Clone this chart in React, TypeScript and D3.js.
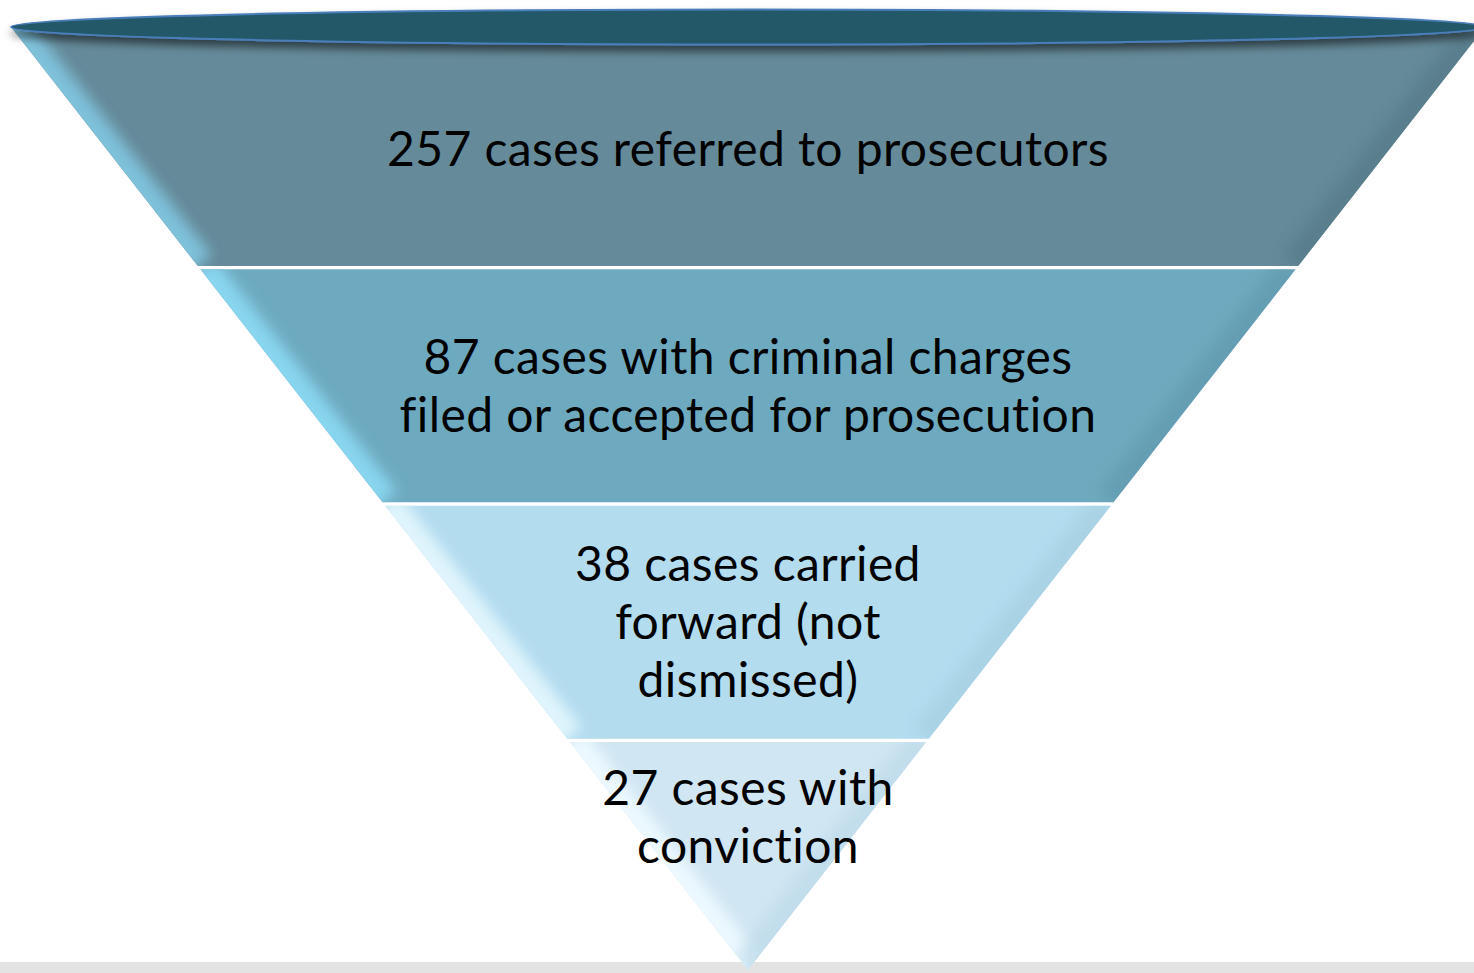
import React from 'react';
import * as d3 from 'd3';

// funnel stages, top to bottom
const stages = ['referred', 'charged', 'forward', 'convicted'];
const stageCounts = [257, 87, 38, 27];
const stageLabels = [
  ['257 cases referred to prosecutors'],
  ['87 cases with criminal charges', 'filed or accepted for prosecution'],
  ['38 cases carried', 'forward (not', 'dismissed)'],
  ['27 cases with', 'conviction'],
];
const stageFills = ['#658a99', '#6eaabf', '#b3dcef', '#d0e6f3'];
const stageLight = ['#80c4de', '#8ad8f2', '#e2f6fd', '#eef9ff'];
const stageDark = ['#557988', '#6099ae', '#a6cfe1', '#bcd9e8'];

const W = 1474;
const H = 973;

export default function App() {
  const cx = 748;
  const topY = 27;
  const apexY = 970;
  const halfTop = 737;

  // half width of the funnel at a given y
  const half = d3.scaleLinear().domain([apexY, topY]).range([0, halfTop]);

  const yBand = d3.scaleBand<string>()
    .domain(stages)
    .range([33, 975])
    .paddingInner(0.014)
    .paddingOuter(0);

  const lineH = 58;

  return (
    <svg width={W} height={H} style={{ position: 'absolute', left: 0, top: 0, background: '#fff' }}>
      <defs>
        <filter id="blur" x="-20%" y="-20%" width="140%" height="140%">
          <feGaussianBlur stdDeviation="7" />
        </filter>
        <filter id="blurSmall" x="-20%" y="-20%" width="140%" height="140%">
          <feGaussianBlur stdDeviation="1.5" />
        </filter>
        <filter id="ellShadow" x="-5%" y="-50%" width="110%" height="260%">
          <feDropShadow dx="0" dy="6" stdDeviation="4" floodColor="#000" floodOpacity="0.55" />
        </filter>
      </defs>

      {/* floor strip */}
      <rect x={0} y={962} width={W} height={H - 962} fill="#e3e3e3" />

      {stages.map((s, i) => {
        const y0 = i === 0 ? topY : yBand(s)!;
        const y1 = Math.min(yBand(s)! + yBand.bandwidth(), apexY);
        const pts: [number, number][] = [
          [cx - half(y0), y0],
          [cx + half(y0), y0],
          [cx + half(y1), y1],
          [cx - half(y1), y1],
        ];
        const d = d3.line()(pts.concat([pts[0]]))!;
        const clipId = `clip-${s}`;
        return (
          <g key={s}>
            <clipPath id={clipId}>
              <path d={d} />
            </clipPath>
            <path d={d} fill={stageFills[i]} />
            <g clipPath={`url(#${clipId})`}>
              {/* left bevel highlight */}
              <line x1={pts[0][0]} y1={pts[0][1]} x2={pts[3][0]} y2={pts[3][1]}
                stroke={stageLight[i]} strokeWidth={36} filter="url(#blur)" opacity={0.95} />
              {/* right bevel shade */}
              <line x1={pts[1][0]} y1={pts[1][1]} x2={pts[2][0]} y2={pts[2][1]}
                stroke={stageDark[i]} strokeWidth={36} filter="url(#blur)" opacity={0.7} />
              {/* top highlight */}
              {i > 0 && (
                <line x1={pts[0][0]} y1={y0 + 2} x2={pts[1][0]} y2={y0 + 2}
                  stroke={stageLight[i]} strokeWidth={4} filter="url(#blurSmall)" />
              )}
              {/* bottom shade */}
              <line x1={pts[3][0]} y1={y1} x2={pts[2][0]} y2={y1}
                stroke={stageDark[i]} strokeWidth={8} filter="url(#blurSmall)" />
            </g>
          </g>
        );
      })}

      {/* top rim of the funnel */}
      <ellipse cx={cx} cy={topY} rx={halfTop} ry={17.5}
        fill="#215968" stroke="#4a7ebb" strokeWidth={2} filter="url(#ellShadow)" />

      {stages.map((s, i) => {
        const lines = stageLabels[i];
        const mid = i === 0 ? 149 : yBand(s)! + yBand.bandwidth() / 2 - (i === 3 ? 41 : 0);
        const first = mid - ((lines.length - 1) * lineH) / 2;
        return (
          <text key={s} x={cx} textAnchor="middle" fontFamily="Lato, 'Open Sans', sans-serif"
            fontSize={48} letterSpacing={0.4} fill="#000" data-count={stageCounts[i]}
            style={{ fontVariantLigatures: 'none' }}>
            {lines.map((t, j) => (
              <tspan key={j} x={cx} y={first + j * lineH} dy="0.35em">{t}</tspan>
            ))}
          </text>
        );
      })}
    </svg>
  );
}
